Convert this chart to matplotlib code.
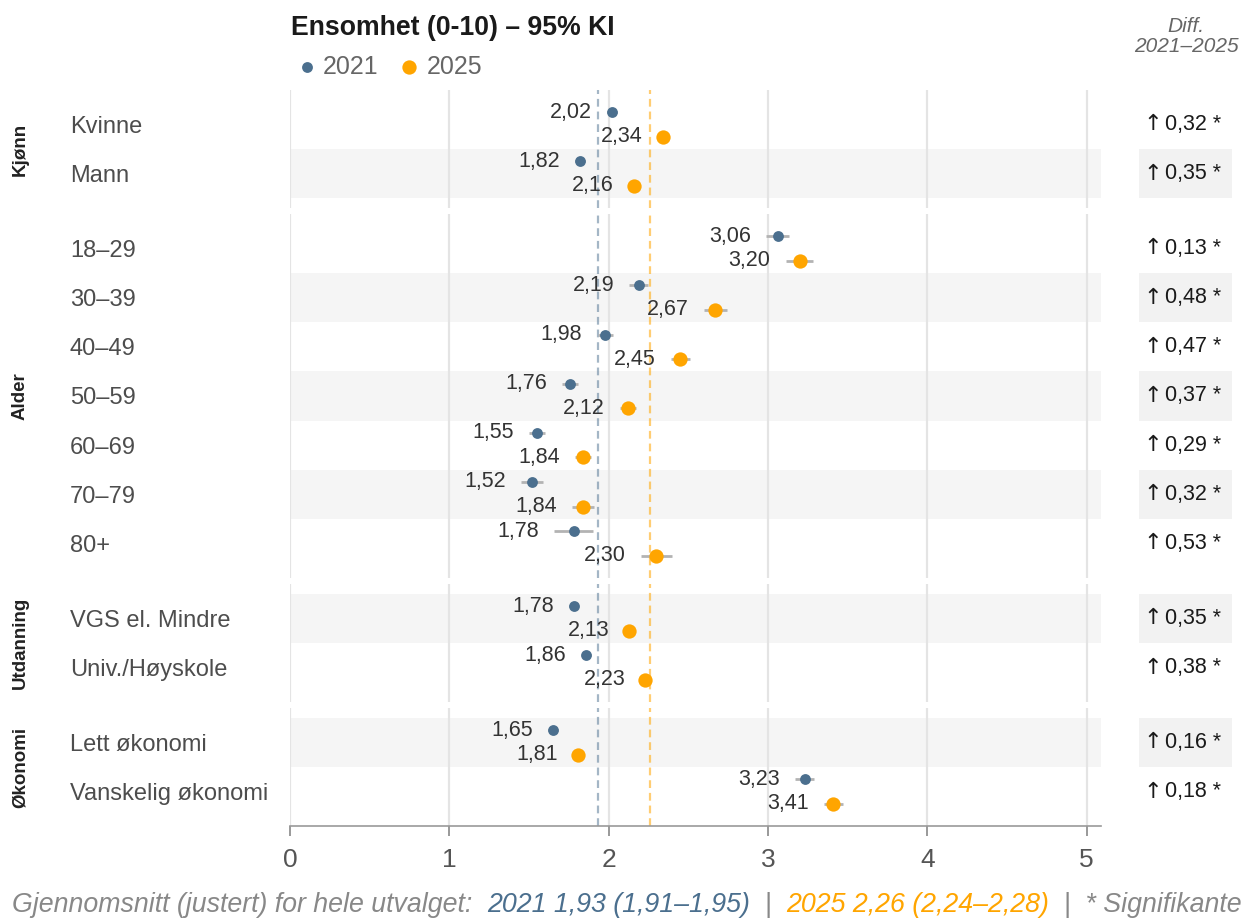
import numpy as np
import matplotlib
matplotlib.use("Agg")
import matplotlib.pyplot as plt
from matplotlib.transforms import blended_transform_factory
from matplotlib.patches import Rectangle
from matplotlib.lines import Line2D

plt.rcParams['font.family'] = ['Liberation Sans', 'DejaVu Sans']

# data
groups = ["Kjønn", "Alder", "Utdanning", "Økonomi"]
group_sizes = [2, 7, 2, 2]
row_labels = ["Kvinne", "Mann",
              "18–29", "30–39", "40–49", "50–59", "60–69", "70–79", "80+",
              "VGS el. Mindre", "Univ./Høyskole",
              "Lett økonomi", "Vanskelig økonomi"]
mean_2021 = [2.02, 1.82, 3.06, 2.19, 1.98, 1.76, 1.55, 1.52, 1.78, 1.78, 1.86, 1.65, 3.23]
lo_2021 = [1.99, 1.79, 2.99, 2.13, 1.93, 1.71, 1.50, 1.45, 1.66, 1.75, 1.83, 1.62, 3.17]
hi_2021 = [2.05, 1.85, 3.13, 2.25, 2.03, 1.81, 1.60, 1.59, 1.90, 1.81, 1.89, 1.68, 3.29]
mean_2025 = [2.34, 2.16, 3.20, 2.67, 2.45, 2.12, 1.84, 1.84, 2.30, 2.13, 2.23, 1.81, 3.41]
lo_2025 = [2.31, 2.13, 3.11, 2.60, 2.39, 2.07, 1.79, 1.77, 2.20, 2.10, 2.20, 1.78, 3.35]
hi_2025 = [2.37, 2.19, 3.28, 2.74, 2.51, 2.17, 1.89, 1.91, 2.40, 2.16, 2.26, 1.84, 3.47]
diff = [0.32, 0.35, 0.13, 0.48, 0.47, 0.37, 0.29, 0.32, 0.53, 0.35, 0.38, 0.16, 0.18]
overall_2021 = 1.93
overall_2025 = 2.26
ci_overall_2021 = (1.91, 1.95)
ci_overall_2025 = (2.24, 2.28)

C21 = "#4b6f8e"
C25 = "#ffa500"
W, H = 1243, 918


def fmt(v):
    return f"{v:.2f}".replace(".", ",")


fig = plt.figure(figsize=(W / 100, H / 100), dpi=100)
gs = fig.add_gridspec(len(groups), 1, height_ratios=[n + 0.4 for n in group_sizes],
                      left=290 / W, right=1101 / W, top=1 - 90 / H, bottom=1 - 826 / H,
                      hspace=0.034)

start = 0
for g, (name, n) in enumerate(zip(groups, group_sizes)):
    ax = fig.add_subplot(gs[g])
    ax.set_xlim(0, 5.09)
    ax.set_ylim(n - 1 + 0.7, -0.7)
    ax.set_xticks(range(6))
    ax.set_yticks([])
    ax.grid(axis="x", color="#e4e4e4", lw=1.6)
    ax.set_axisbelow(True)
    for s in ["top", "left", "right", "bottom"]:
        ax.spines[s].set_visible(False)
    if g == len(groups) - 1:
        ax.spines["bottom"].set_visible(True)
        ax.spines["bottom"].set_color("#999999")
        ax.spines["bottom"].set_linewidth(1.2)
        ax.tick_params(axis="x", length=7, width=1.2, color="#888888",
                       labelsize=19, labelcolor="#555555", pad=9)
    else:
        ax.tick_params(axis="x", length=0, labelbottom=False)

    ax.axvline(overall_2021, color=C21, alpha=0.5, lw=1.6, dashes=(3.5, 2.2), zorder=1)
    ax.axvline(overall_2025, color=C25, alpha=0.55, lw=1.6, dashes=(3.5, 2.2), zorder=1)

    trans = blended_transform_factory(fig.transFigure, ax.transData)
    trans_ax = blended_transform_factory(fig.transFigure, ax.transAxes)
    ax.text(20 / W, 0.5, name, transform=trans_ax, rotation=90, ha="center", va="center",
            fontsize=13.5, weight="bold", color="#222222")

    for j in range(n):
        i = start + j
        if i % 2 == 1:
            ax.axhspan(j - 0.5, j + 0.5, color="#f5f5f5", lw=0, zorder=0)
            ax.add_patch(Rectangle((1139 / W, j - 0.5), 93 / W, 1, transform=trans,
                                   color="#f2f2f2", lw=0, clip_on=False, zorder=0))
        ax.text(70 / W, j + 0.05, row_labels[i], transform=trans, ha="left", va="center",
                fontsize=17, color="#4d4d4d")
        ax.text(1153 / W, j, "↑", transform=trans, ha="center", va="center",
                fontsize=16, color="#1a1a1a", family="DejaVu Sans")
        ax.text(1165 / W, j, fmt(diff[i]) + " *", transform=trans, ha="left",
                va="center", fontsize=15.5, color="#1a1a1a")

        for y, m, lo, hi, c, ms in [(j - 0.25, mean_2021[i], lo_2021[i], hi_2021[i], C21, 7.8),
                                    (j + 0.25, mean_2025[i], lo_2025[i], hi_2025[i], C25, 10.3)]:
            ax.hlines(y, lo, hi, color="#b3b3b3", lw=2, zorder=2)
            ax.plot([m], [y], "o", ms=ms, color=c, mec="none", zorder=3)
            ax.annotate(fmt(m), xy=(lo, y), xytext=(-11, 0), textcoords="offset points",
                        ha="right", va="center", fontsize=15.5, color="#333333")
    start += n

# title + legend
fig.text(291 / W, 1 - 28 / H, "Ensomhet (0-10) – 95% KI", fontsize=19.2, weight="bold",
         color="#1a1a1a", va="center", ha="left")
fig.add_artist(Line2D([307 / W], [1 - 67 / H], marker="o", ms=7.8, color=C21, mec="none",
                      transform=fig.transFigure))
fig.text(323 / W, 1 - 67 / H, "2021", fontsize=18, color="#666666", va="center")
fig.add_artist(Line2D([409 / W], [1 - 67 / H], marker="o", ms=10.3, color=C25, mec="none",
                      transform=fig.transFigure))
fig.text(427 / W, 1 - 67 / H, "2025", fontsize=18, color="#666666", va="center")

# diff header
fig.text(1186 / W, 1 - 27 / H, "Diff.", fontsize=15, style="italic", color="#666666",
         ha="center", va="center")
fig.text(1186 / W, 1 - 47 / H, "2021–2025", fontsize=15, style="italic", color="#666666",
         ha="center", va="center")

# footer, built from coloured pieces placed one after another
parts = [("Gjennomsnitt (justert) for hele utvalget:  ", "#888888"),
         (f"2021 {fmt(overall_2021)} ({fmt(ci_overall_2021[0])}–{fmt(ci_overall_2021[1])})", C21),
         ("  |  ", "#888888"),
         (f"2025 {fmt(overall_2025)} ({fmt(ci_overall_2025[0])}–{fmt(ci_overall_2025[1])})", C25),
         ("  |  * Signifikante", "#888888")]
anchor = fig.text(12 / W, 1 - 905 / H, parts[0][0], fontsize=19.3, style="italic",
                  color=parts[0][1], va="center", ha="left")
for txt, col in parts[1:]:
    anchor = fig.add_artist(plt.Annotation(txt, xy=(1, 0), xycoords=anchor, va="bottom",
                                           ha="left", fontsize=19.3, style="italic", color=col))

fig.savefig("out.png", dpi=100)
